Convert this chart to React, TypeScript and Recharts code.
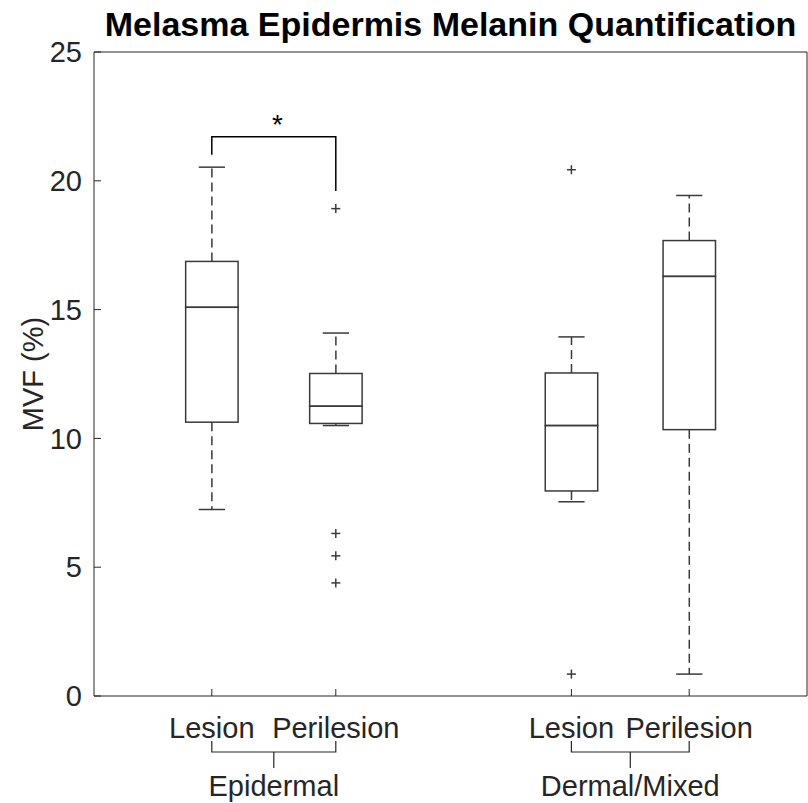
import React from "react"
import { ComposedChart, Bar, Scatter, Line, XAxis, YAxis } from "recharts"

// box positions on the x axis and their labels
const positions = [0.95, 1.95, 3.85, 4.8]
const tickLabels = ["Lesion", "Perilesion", "Lesion", "Perilesion"]
const groupLabels = ["Epidermal", "Dermal/Mixed"]
const yTicks = [0, 5, 10, 15, 20, 25]

// box statistics, MVF (%)
const whiskerLow = [7.24, 10.5, 7.54, 0.85]
const q1 = [10.63, 10.58, 7.96, 10.34]
const median = [15.09, 11.25, 10.5, 16.29]
const q3 = [16.87, 12.52, 12.54, 17.68]
const whiskerHigh = [20.53, 14.09, 13.94, 19.43]

// outliers
const outlierPos = [1.95, 1.95, 1.95, 1.95, 3.85, 3.85]
const outlierValues = [18.92, 6.31, 5.44, 4.39, 20.43, 0.85]

// significance bracket
const bracketPos = [0.95, 0.95, 1.95, 1.95]
const bracketValues = [21.01, 21.71, 21.71, 19.6]
const starPos = [1.48]
const starValues = [22.42]

const boxData = positions.map((pos, i) => ({
  pos,
  base: whiskerLow[i],
  lowW: q1[i] - whiskerLow[i],
  boxLow: median[i] - q1[i],
  boxHigh: q3[i] - median[i],
  highW: whiskerHigh[i] - q3[i],
}))
const outlierData = outlierPos.map((pos, i) => ({ pos, value: outlierValues[i] }))
const bracketData = bracketPos.map((pos, i) => ({ pos, value: bracketValues[i] }))
const starData = starPos.map((pos, i) => ({ pos, value: starValues[i] }))

const AXIS = "#262626"
const LINE = "#3a3a3a"
const FONT = 29
const xDomain = [0, 5.75]

function LowWhisker(props: any) {
  const { x, y, width, height } = props
  const cx = x + width / 2
  return (
    <g stroke={LINE} strokeWidth={1.5}>
      <line x1={cx} x2={cx} y1={y} y2={y + height} strokeDasharray="9 5" />
      <line x1={cx - width / 4} x2={cx + width / 4} y1={y + height} y2={y + height} />
    </g>
  )
}

function HighWhisker(props: any) {
  const { x, y, width, height } = props
  const cx = x + width / 2
  return (
    <g stroke={LINE} strokeWidth={1.5}>
      <line x1={cx} x2={cx} y1={y + height} y2={y} strokeDasharray="9 5" />
      <line x1={cx - width / 4} x2={cx + width / 4} y1={y} y2={y} />
    </g>
  )
}

function BoxPart(props: any) {
  const { x, y, width, height } = props
  return <rect x={x} y={y} width={width} height={height} fill="none" stroke={LINE} strokeWidth={1.5} />
}

function Plus(props: any) {
  const { cx, cy } = props
  return (
    <g stroke={LINE} strokeWidth={1.5}>
      <line x1={cx - 4.5} x2={cx + 4.5} y1={cy} y2={cy} />
      <line x1={cx} x2={cx} y1={cy - 4.5} y2={cy + 4.5} />
    </g>
  )
}

function Star(props: any) {
  const { cx, cy } = props
  return (
    <text x={cx} y={cy + 16} textAnchor="middle" fontSize={28} fill="#000">
      *
    </text>
  )
}

// first tick x of each group, filled while the ticks are drawn in order
const groupStart: Record<number, number> = {}

function XTick(props: any) {
  const { x, y, index } = props
  const group = Math.floor(index / 2)
  const label = (
    <text x={x} y={y} dy="0.71em" textAnchor="middle" fontSize={FONT} fill={AXIS}>
      {tickLabels[index]}
    </text>
  )
  if (index % 2 === 0) {
    groupStart[group] = x
    return <g>{label}</g>
  }
  const x0 = groupStart[group]
  const mid = (x0 + x) / 2
  return (
    <g>
      {label}
      <polyline
        points={`${x0},${y + 24} ${x0},${y + 35} ${x},${y + 35} ${x},${y + 24}`}
        fill="none"
        stroke={AXIS}
        strokeWidth={1.2}
      />
      <line x1={mid} x2={mid} y1={y + 35} y2={y + 51} stroke={AXIS} strokeWidth={1.2} />
      <text x={mid} y={y + 58} dy="0.71em" textAnchor="middle" fontSize={FONT} fill={AXIS}>
        {groupLabels[group]}
      </text>
    </g>
  )
}

function YLabel(props: any) {
  const { viewBox } = props
  const x = viewBox.x + 43
  const y = viewBox.y + viewBox.height / 2
  return (
    <text x={x} y={y} transform={`rotate(-90 ${x} ${y})`} textAnchor="middle" fontSize={FONT} fill={AXIS}>
      MVF (%)
    </text>
  )
}

export default function App() {
  return (
    <div
      style={{
        position: "absolute",
        left: 0,
        top: 0,
        width: 808,
        height: 803,
        background: "#fff",
        fontFamily: "'Liberation Sans', Arial, sans-serif",
      }}
    >
      <div
        style={{
          position: "absolute",
          left: 94,
          width: 713,
          top: 7,
          textAlign: "center",
          fontSize: 34,
          lineHeight: "34px",
          fontWeight: "bold",
          color: "#000",
          whiteSpace: "nowrap",
        }}
      >
        Melasma Epidermis Melanin Quantification
      </div>
      <ComposedChart
        width={808}
        height={803}
        data={boxData}
        margin={{ top: 51, right: 0, bottom: 0, left: 0 }}
      >
        <XAxis
          dataKey="pos"
          type="number"
          domain={xDomain}
          ticks={positions}
          interval={0}
          height={107}
          tickSize={-7}
          tickMargin={28}
          stroke={AXIS}
          tick={XTick}
        />
        <XAxis
          xAxisId="top"
          orientation="top"
          type="number"
          domain={xDomain}
          ticks={positions}
          interval={0}
          height={1}
          tickSize={-7}
          tick={false}
          stroke={AXIS}
        />
        <YAxis
          type="number"
          domain={[0, 25]}
          ticks={yTicks}
          interval={0}
          width={94}
          tickSize={-7}
          tickMargin={19}
          stroke={AXIS}
          tick={{ fontSize: FONT, fill: AXIS }}
          label={<YLabel />}
        />
        <YAxis
          yAxisId="right"
          orientation="right"
          type="number"
          domain={[0, 25]}
          ticks={yTicks}
          interval={0}
          width={1}
          tickSize={-7}
          tick={false}
          stroke={AXIS}
        />
        <Bar dataKey="base" stackId="box" fill="none" barSize={60} isAnimationActive={false} />
        <Bar dataKey="lowW" stackId="box" barSize={60} shape={LowWhisker} isAnimationActive={false} />
        <Bar dataKey="boxLow" stackId="box" barSize={60} shape={BoxPart} isAnimationActive={false} />
        <Bar dataKey="boxHigh" stackId="box" barSize={60} shape={BoxPart} isAnimationActive={false} />
        <Bar dataKey="highW" stackId="box" barSize={60} shape={HighWhisker} isAnimationActive={false} />
        <Scatter data={outlierData} dataKey="value" shape={Plus} isAnimationActive={false} />
        <Line
          data={bracketData}
          dataKey="value"
          type="linear"
          stroke="#000"
          strokeWidth={1.5}
          dot={false}
          isAnimationActive={false}
        />
        <Scatter data={starData} dataKey="value" shape={Star} isAnimationActive={false} />
      </ComposedChart>
    </div>
  )
}
